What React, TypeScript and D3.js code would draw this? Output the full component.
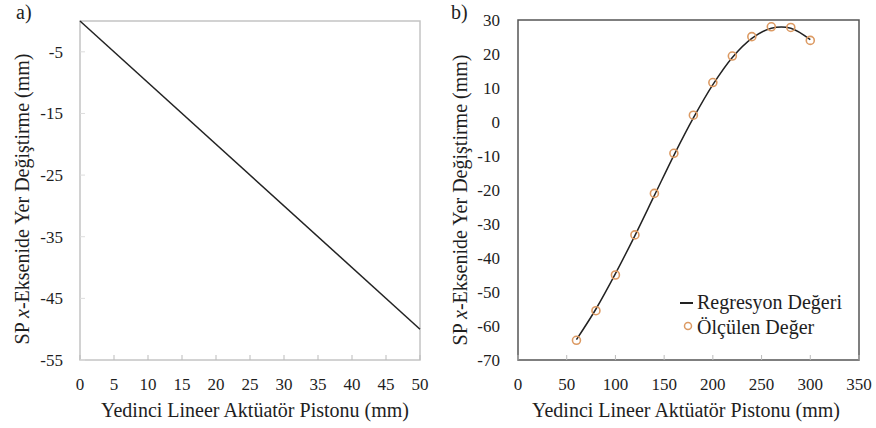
import React from 'react';
import * as d3 from 'd3';

// panel a: linear displacement
const aPiston = [0, 50];
const aDisp = [0, -50];
const aXTicks = [0, 5, 10, 15, 20, 25, 30, 35, 40, 45, 50];
const aYTicks = [-5, -15, -25, -35, -45, -55];

// panel b: measured vs regression
const bPiston = [60, 80, 100, 120, 140, 160, 180, 200, 220, 240, 260, 280, 300];
const bMeasured = [-64.2, -55.5, -45, -33.2, -21, -9.2, 2, 11.6, 19.4, 25.1, 28, 27.8, 24];
const bRegression = [-64, -55, -44.6, -33.4, -21.6, -9.8, 1.2, 11, 19, 24.6, 27.6, 27.6, 24.2];
const bXTicks = [0, 50, 100, 150, 200, 250, 300, 350];
const bYTicks = [30, 20, 10, 0, -10, -20, -30, -40, -50, -60, -70];

const FONT = "'Liberation Serif'";
const TXT = '#1e1e1e';

const App = () => {
  const ax = d3.scaleLinear().domain([0, 50]).range([80, 420]);
  const ay = d3.scaleLinear().domain([-55, 0]).range([360, 21]);
  const bx = d3.scaleLinear().domain([0, 350]).range([518, 859]);
  const by = d3.scaleLinear().domain([-70, 30]).range([360, 20]);

  const aLine = d3.line<number>().x((d, i) => ax(aPiston[i])).y(d => ay(d));
  const bLine = d3.line<number>()
    .x((d, i) => bx(bPiston[i]))
    .y(d => by(d))
    .curve(d3.curveCatmullRom);

  const yTitle = (
    <>
      SP <tspan fontStyle="italic">x</tspan>-Eksenide Yer Değiştirme (mm)
    </>
  );

  return (
    <svg width={876} height={428} style={{ position: 'absolute', left: 0, top: 0, background: '#fff', fontFamily: FONT }}>
      {/* ---- panel a ---- */}
      <text x={16} y={19} fontSize={20} fill={TXT}>a)</text>
      <rect x={ax(0)} y={ay(0)} width={ax(50) - ax(0)} height={ay(-55) - ay(0)}
        fill="none" stroke="#c4c4c4" strokeWidth={1.5} />
      {aXTicks.map(t => (
        <g key={'ax' + t}>
          <line x1={ax(t)} x2={ax(t)} y1={ay(-55)} y2={ay(-55) - 5} stroke="#bbb" />
          <text x={ax(t)} y={390} textAnchor="middle" fontSize={17} fill={TXT}>{t}</text>
        </g>
      ))}
      {aYTicks.map(t => (
        <g key={'ay' + t}>
          <line x1={ax(0)} x2={ax(0) + 5} y1={ay(t)} y2={ay(t)} stroke="#ddd" />
          <text x={63} y={ay(t)} dy="0.35em" textAnchor="end" fontSize={17} fill={TXT}>{t}</text>
        </g>
      ))}
      <path d={aLine(aDisp) || ''} fill="none" stroke="#222" strokeWidth={1.5} />
      <text x={255} y={417} textAnchor="middle" fontSize={20} fill={TXT}>
        Yedinci Lineer Aktüatör Pistonu (mm)
      </text>
      <text transform={`translate(29,199) rotate(-90)`} textAnchor="middle" fontSize={20} fill={TXT}>
        {yTitle}
      </text>

      {/* ---- panel b ---- */}
      <text x={451} y={19} fontSize={20} fill={TXT}>b)</text>
      <rect x={bx(0)} y={by(30)} width={bx(350) - bx(0)} height={by(-70) - by(30)}
        fill="none" stroke="#555" strokeWidth={1.5} />
      {bXTicks.map(t => (
        <g key={'bx' + t}>
          <line x1={bx(t)} x2={bx(t)} y1={by(-70)} y2={by(-70) - 5} stroke="#bbb" />
          <text x={bx(t)} y={390} textAnchor="middle" fontSize={17} fill={TXT}>{t}</text>
        </g>
      ))}
      {bYTicks.map(t => (
        <g key={'by' + t}>
          <text x={500} y={by(t)} dy="0.35em" textAnchor="end" fontSize={17} fill={TXT}>{t}</text>
        </g>
      ))}
      <path d={bLine(bRegression) || ''} fill="none" stroke="#222" strokeWidth={1.5} />
      {bMeasured.map((v, i) => (
        <circle key={'m' + i} cx={bx(bPiston[i])} cy={by(v)} r={4}
          fill="none" stroke="#dc9a63" strokeWidth={1.6} />
      ))}
      <text x={686} y={417} textAnchor="middle" fontSize={20} fill={TXT}>
        Yedinci Lineer Aktüatör Pistonu (mm)
      </text>
      <text transform={`translate(467,200) rotate(-90)`} textAnchor="middle" fontSize={20} fill={TXT}>
        {yTitle}
      </text>

      {/* legend */}
      <line x1={680} x2={693} y1={303} y2={303} stroke="#222" strokeWidth={2} />
      <text x={697} y={309} fontSize={20} fill={TXT}>Regresyon Değeri</text>
      <circle cx={688} cy={326} r={3.5} fill="none" stroke="#dc9a63" strokeWidth={1.5} />
      <text x={697} y={334} fontSize={20} fill={TXT}>Ölçülen Değer</text>
    </svg>
  );
};

export default App;
